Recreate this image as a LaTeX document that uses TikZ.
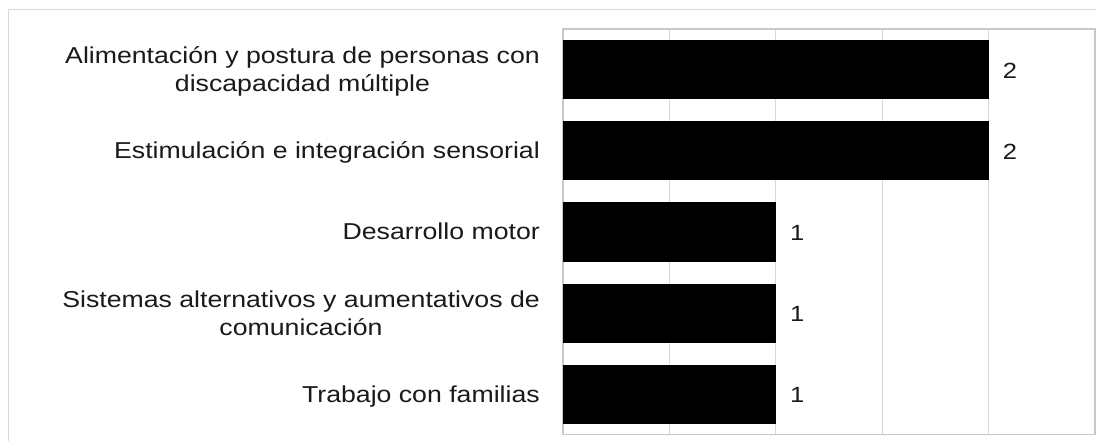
\documentclass[tikz,border=0pt]{standalone}
\usepackage{fontspec}
\setmainfont{Liberation Sans}[FakeStretch=1.16]
\definecolor{gridgray}{HTML}{D9D9D9}
\definecolor{framegray}{HTML}{C8C8C8}
\definecolor{txt}{HTML}{1A1A1A}
\begin{document}
\begin{tikzpicture}[x=1pt,y=-1pt,
  gridline/.style={draw=gridgray,line width=1.2pt},
  plotframe/.style={draw=framegray,line width=1.6pt},
  outerframe/.style={draw=gridgray,line width=1pt},
  barbox/.style={fill=black,draw=none,inner sep=0pt,outer sep=0pt,minimum height=59pt,anchor=west},
  catlabel/.style={inner sep=0pt,text=txt,font=\fontsize{23}{28}\selectfont},
  vallabel/.style={inner sep=0pt,text=txt,font=\fontsize{22}{26}\selectfont,anchor=base west}]
\useasboundingbox (0,0) rectangle (1096,441);
\fill[white] (0,0) rectangle (1096,441);
% outer frame
\draw[outerframe] (8,441.5) -- (8,10) -- (1096.5,10);
% gridlines
\foreach \gx in {669.4,775.8,882.2,988.6}{
  \draw[gridline] (\gx,29) -- (\gx,434.5);
}
\draw[plotframe] (563,29) rectangle (1095,434.5);
% bars
\node[barbox,minimum width=425.6pt] (b1) at (563,69.6) {};
\node[barbox,minimum width=425.6pt] (b2) at (563,150.8) {};
\node[barbox,minimum width=212.8pt] (b3) at (563,232.0) {};
\node[barbox,minimum width=212.8pt] (b4) at (563,313.2) {};
\node[barbox,minimum width=212.8pt] (b5) at (563,394.4) {};
% value labels
\node[vallabel] (v1) at ([xshift=14pt,yshift=-8.5pt]b1.east) {2};
\node[vallabel] (v2) at ([xshift=14pt,yshift=-8.5pt]b2.east) {2};
\node[vallabel] (v3) at ([xshift=14pt,yshift=-8.5pt]b3.east) {1};
\node[vallabel] (v4) at ([xshift=14pt,yshift=-8.5pt]b4.east) {1};
\node[vallabel] (v5) at ([xshift=14pt,yshift=-8.5pt]b5.east) {1};
% category labels
\node[catlabel,anchor=base east] (c1a) at (540,63.3) {Alimentación y postura de personas con};
\node[catlabel,anchor=base] (c1b) at ([yshift=-28pt]c1a.base) {discapacidad múltiple};
\node[catlabel,anchor=base east] (c2) at (540,158.5) {Estimulación e integración sensorial};
\node[catlabel,anchor=base east] (c3) at (540,239.7) {Desarrollo motor};
\node[catlabel,anchor=base east] (c4a) at (540,307.0) {Sistemas alternativos y aumentativos de};
\node[catlabel,anchor=base] (c4b) at ([yshift=-28pt]c4a.base) {comunicación};
\node[catlabel,anchor=base east] (c5) at (540,402.0) {Trabajo con familias};
\end{tikzpicture}
\end{document}
